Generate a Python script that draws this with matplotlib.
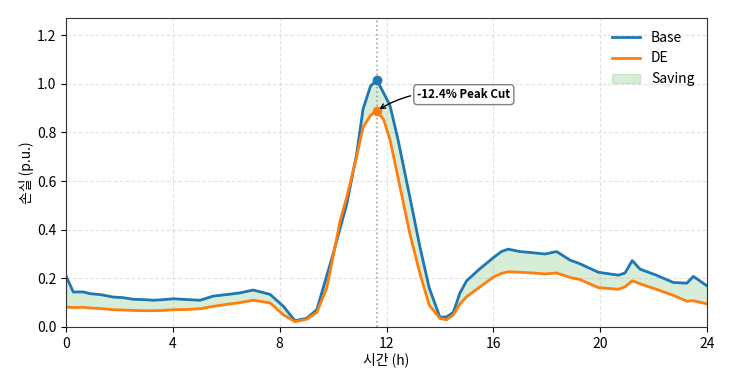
import numpy as np
import matplotlib
matplotlib.use("Agg")
import matplotlib.pyplot as plt

plt.rcParams['font.family'] = ['Noto Sans CJK KR', 'DejaVu Sans']
plt.rcParams['axes.unicode_minus'] = False

# 시간 (h)
hours = [0, 0.27, 0.65, 0.9, 1.3, 1.77, 2.1, 2.52, 3.0, 3.27, 3.6, 4.02, 4.5, 5.02,
         5.51, 6.14, 6.5, 7.01, 7.64, 8.14, 8.57, 9.01, 9.39, 9.76, 10.0, 10.26,
         10.5, 10.88, 11.12, 11.4, 11.64, 11.9, 12.13, 12.43, 12.88, 13.25, 13.6,
         14.0, 14.25, 14.5, 14.75, 15.0, 15.5, 16.0, 16.3, 16.55, 17.0, 17.5,
         17.93, 18.37, 18.87, 19.24, 19.93, 20.68, 20.93, 21.2, 21.49, 22.1,
         22.74, 23.24, 23.49, 24]

base = [0.21, 0.144, 0.144, 0.137, 0.133, 0.123, 0.121, 0.114, 0.112, 0.11, 0.112,
        0.116, 0.113, 0.11, 0.127, 0.135, 0.14, 0.152, 0.134, 0.085, 0.026, 0.036,
        0.071, 0.21, 0.3, 0.405, 0.5, 0.71, 0.895, 0.99, 1.015, 0.96, 0.91, 0.77,
        0.53, 0.33, 0.16, 0.04, 0.042, 0.06, 0.14, 0.19, 0.24, 0.285, 0.31, 0.32,
        0.31, 0.305, 0.30, 0.31, 0.275, 0.26, 0.225, 0.213, 0.222, 0.273, 0.238,
        0.213, 0.183, 0.18, 0.208, 0.169]

de = [0.082, 0.08, 0.081, 0.078, 0.076, 0.071, 0.07, 0.068, 0.067, 0.067, 0.068,
      0.071, 0.072, 0.075, 0.085, 0.095, 0.1, 0.11, 0.099, 0.05, 0.022, 0.032,
      0.06, 0.16, 0.29, 0.435, 0.53, 0.7, 0.82, 0.87, 0.889, 0.85, 0.77, 0.615,
      0.38, 0.22, 0.09, 0.035, 0.03, 0.05, 0.095, 0.125, 0.165, 0.205, 0.22, 0.227,
      0.225, 0.222, 0.218, 0.222, 0.204, 0.195, 0.162, 0.155, 0.165, 0.19, 0.178,
      0.155, 0.13, 0.106, 0.108, 0.095]

t = np.array(hours)
b = np.array(base)
d = np.array(de)

fig = plt.figure(figsize=(7.37, 3.89), dpi=100)
ax = fig.add_axes([0.0896, 0.1594, 0.8697, 0.7943])

ax.plot(t, b, color='tab:blue', lw=2, label='Base')
ax.plot(t, d, color='tab:orange', lw=2, label='DE')
ax.fill_between(t, b, d, color='tab:green', alpha=0.18, label='Saving')

ip = int(np.argmax(b))
ax.axvline(t[ip], color='gray', ls=':', lw=1.2, alpha=0.7)
ax.plot(t[ip], b[ip], 'o', color='tab:blue', ms=6)
ax.plot(t[ip], d[ip], 'o', color='tab:orange', ms=6)

cut = (b[ip] - d[ip]) / b[ip] * 100
ax.annotate(f'-{cut:.1f}% Peak Cut', xy=(t[ip], d[ip]), xytext=(13.15, 0.955),
            fontsize=8.3, fontweight='bold', ha='left', va='center',
            bbox=dict(boxstyle='round,pad=0.3', fc='white', ec='gray'),
            arrowprops=dict(arrowstyle='->', color='black', lw=1,
                            connectionstyle='arc3,rad=0.2'))

ax.set_xlim(0, 24)
ax.set_ylim(0, 1.27)
ax.set_xticks(range(0, 25, 4))
ax.set_yticks(np.arange(0, 1.21, 0.2))
ax.set_xlabel('시간 (h)', labelpad=1)
ax.set_ylabel('손실 (p.u.)', labelpad=2)
ax.grid(True, ls='--', alpha=0.35)
for s in ax.spines.values():
    s.set_color('#333333')
ax.legend(loc='upper right', frameon=False)

fig.savefig('out.png', dpi=100)
